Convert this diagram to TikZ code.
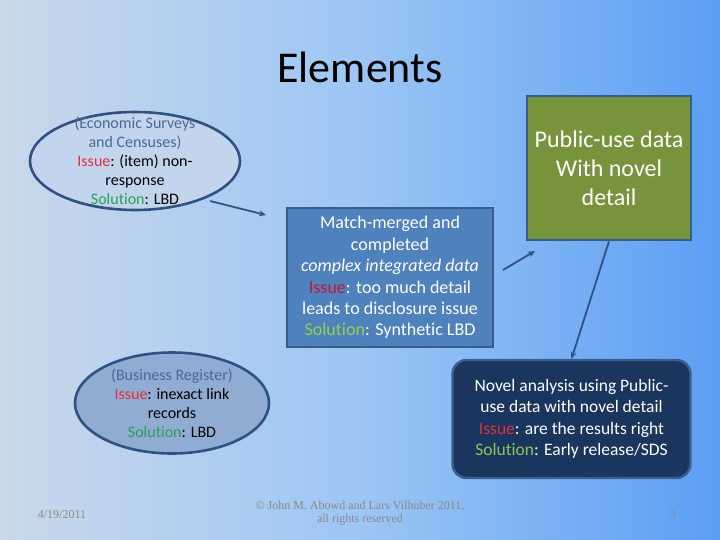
\documentclass[tikz,border=0pt]{standalone}
\usepackage{fontspec}
\setmainfont{Carlito}[Ligatures=NoCommon]
\newfontfamily\footfont{Liberation Serif}
\usetikzlibrary{shapes.geometric,arrows.meta}
\definecolor{bgL}{HTML}{CBD8EA}
\definecolor{bgM}{HTML}{9CC6F4}
\definecolor{bgR}{HTML}{5C9EF4}
\definecolor{edgeblue}{HTML}{2F5283}
\definecolor{ell1}{HTML}{C3D5EC}
\definecolor{ell2}{HTML}{90ACD2}
\definecolor{midbox}{HTML}{4F81BD}
\definecolor{midedge}{HTML}{385D8A}
\definecolor{olive}{HTML}{77933C}
\definecolor{navy}{HTML}{1B365E}
\definecolor{navyedge}{HTML}{3A5E90}
\definecolor{paren}{HTML}{4A6A96}
\definecolor{issred}{HTML}{E0303C}
\definecolor{solgreen}{HTML}{27A05A}
\definecolor{issdark}{HTML}{C8143C}
\definecolor{sollight}{HTML}{92D050}
\definecolor{footgray}{HTML}{8A8A8A}
\tikzset{
  ellshape/.style={ellipse, draw=edgeblue, line width=2.6pt, inner sep=0pt},
  elltext/.style={align=center, font=\fontsize{16}{19}\selectfont, text=black},
  boxtext/.style={align=center, font=\fontsize{18}{21.4}\selectfont, text=white},
  conn/.style={draw=edgeblue, line width=1.8pt, -{Stealth[length=7pt,width=6pt]}},
  foot/.style={font=\footfont\fontsize{12}{13}\selectfont, text=footgray, align=center}
}
\begin{document}
\begin{tikzpicture}[x=1pt,y=-1pt]
\useasboundingbox (0,0) rectangle (720,540);
\shade[left color=bgL, right color=bgR, middle color=bgM] (0,0) rectangle (720,540);

\node[font=\fontsize{44}{48}\selectfont, text=black] (title) at (360,67) {Elements};

% ellipse 1
\node[ellshape, fill=ell1, minimum width=210pt, minimum height=98pt] (e1) at (135,161) {};
\node[elltext] (e1t) at (e1.center) {\textcolor{paren}{(Economic Surveys}\\\textcolor{paren}{and Censuses)}\\\textcolor{issred}{Issue}: (item) non-\\response\\\textcolor{solgreen}{Solution}: LBD};

% center box
\node[draw=midedge, line width=2pt, fill=midbox, minimum width=206pt, minimum height=139pt, inner sep=0pt] (mid) at (390,277.5) {};
\node[boxtext] (midt) at (mid.center) {Match-merged and\\completed\\\textit{complex integrated data}\\\textcolor{issdark}{Issue}: too much detail\\leads to disclosure issue\\\textcolor{sollight}{Solution}: Synthetic LBD};

% public box
\node[draw=midedge, line width=2.6pt, fill=olive, minimum width=164pt, minimum height=144pt, inner sep=0pt] (pub) at (609,168) {};
\node[align=center, font=\fontsize{24}{29}\selectfont, text=white] (pubt) at (pub.center) {Public-use data\\With novel\\detail};

% ellipse 2
\node[ellshape, fill=ell2, minimum width=194pt, minimum height=101pt] (e2) at (172,403) {};
\node[elltext] (e2t) at (e2.center) {\textcolor{paren}{(Business Register)}\\\textcolor{issred}{Issue}: inexact link\\records\\\textcolor{solgreen}{Solution}: LBD};

% novel box
\node[draw=navyedge, line width=2.4pt, fill=navy, rounded corners=14pt, minimum width=238pt, minimum height=118pt, inner sep=0pt] (nov) at (571.5,419) {};
\node[boxtext, font=\fontsize{17.5}{21.5}\selectfont] (novt) at (nov.center) {Novel analysis using Public-\\use data with novel detail\\\textcolor{issred}{Issue}: are the results right\\\textcolor{sollight!85!gray}{Solution}: Early release/SDS};

% connectors
\coordinate (c1s) at (210,201);
\coordinate (c1e) at (266,215);
\coordinate (c2s) at (503,270);
\coordinate (c2e) at (535,251);
\draw[conn] (c1s) -- (c1e);
\draw[conn] (c2s) -- (c2e);
\draw[conn] (pub.south) -- (nov.north);

% footer
\node[foot] (date) at (62,515) {4/19/2011};
\node[foot] (copy) at (360,513) {© John M. Abowd and Lars Vilhuber 2011,\\all rights reserved};
\node[foot] (page) at (673,514) {3};
\end{tikzpicture}
\end{document}
